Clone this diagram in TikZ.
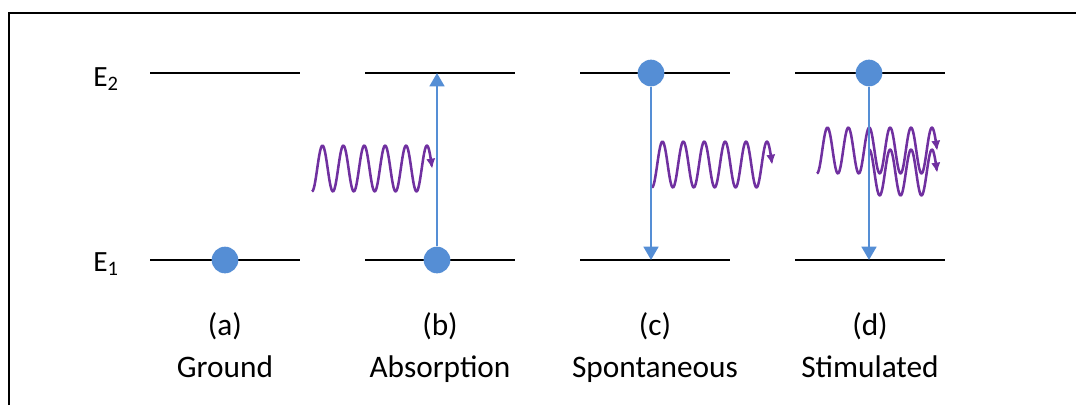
\documentclass[tikz,border=0pt]{standalone}
\usepackage{fontspec}
\setmainfont{Carlito}
\usepackage{xcolor}
\usepackage{tikz}
\usetikzlibrary{arrows.meta}
\definecolor{levelblue}{HTML}{558ED5}
\definecolor{photonpurple}{HTML}{7030A0}
\tikzset{
  frameline/.style={
    line width=1.8pt,
    draw=black
  },
  levelline/.style={
    line width=1.2pt,
    draw=black
  },
  electron/.style={
    circle,
    fill=levelblue,
    inner sep=0pt,
    minimum size=20pt
  },
  transition/.style={
    -{Triangle[length=10pt,width=11pt]},
    line width=2pt,
    draw=levelblue
  },
  photon/.style={
    -{Latex[length=7.5pt,width=7pt]},
    line width=1.9pt,
    draw=photonpurple,
    line join=round
  },
  energylabel/.style={
    font=\fontsize{22}{26}\selectfont,
    inner sep=0pt,
    anchor=base
  },
  caption/.style={
    font=\fontsize{23.5}{28}\selectfont,
    inner sep=0pt,
    anchor=base
  }
}

\begin{document}
\begin{tikzpicture}[x=0.75pt,y=-0.75pt]
    \useasboundingbox (0,0) rectangle (1076,405);
    \draw[frameline] (9,405) -- (9,13) -- (1076,13);

    % energy levels
    \foreach \col/\xl in {a/150, b/365, c/580, d/795} {
        \coordinate (\col-up-l) at (\xl,73);
        \coordinate (\col-up-r) at (\xl+150,73);
        \coordinate (\col-dn-l) at (\xl,260);
        \coordinate (\col-dn-r) at (\xl+150,260);
        \draw[levelline] (\col-up-l) -- (\col-up-r);
        \draw[levelline] (\col-dn-l) -- (\col-dn-r);
    }
    \node[energylabel] (e-up) at (106,86) {E\textsubscript{2}};
    \node[energylabel] (e-dn) at (106,271) {E\textsubscript{1}};

    % photons
    \draw[photon] plot[domain=312:432.2, samples=150, smooth]
        (\x,{168.5+23*cos((\x-312)/20.9*360)});
    \draw[photon] plot[domain=652:772.2, samples=150, smooth]
        (\x,{164.5+23*cos((\x-652)/20.9*360)});
    \draw[photon] plot[domain=817:937.2, samples=150, smooth]
        (\x,{150.5+23*cos((\x-817)/20.9*360)});
    \draw[photon] plot[domain=869.25:937.2, samples=90, smooth]
        (\x,{172.5-23*cos((\x-869.25)/20.9*360)});

    % electrons and transitions
    \coordinate (b-top) at (437,73);
    \coordinate (c-bot) at (651,260);
    \coordinate (d-bot) at (869,260);
    \node[electron] (el-a) at (225,260) {};
    \node[electron] (el-b) at (437,260) {};
    \node[electron] (el-c) at (651,73) {};
    \node[electron] (el-d) at (869,73) {};
    \draw[transition] (el-b) -- (b-top);
    \draw[transition] (el-c) -- (c-bot);
    \draw[transition] (el-d) -- (d-bot);

    % captions
    \foreach \xc/\tag/\name in {225/a/Ground, 440/b/Absorption,
                                655/c/Spontaneous, 870/d/Stimulated} {
        \node[caption] (tag-\tag) at (\xc,335) {(\tag)};
        \node[caption] (name-\tag) at (\xc,377) {\name};
    }
\end{tikzpicture}
\end{document}
